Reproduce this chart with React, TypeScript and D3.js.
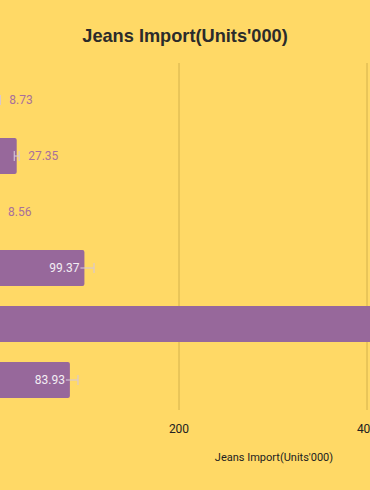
import React from 'react'
import * as d3 from 'd3'

// chart values (the view is cropped: category labels sit off the left edge)
const categories = ['Bangladesh', 'China', 'India', 'Pakistan', 'Turkey', 'Vietnam']
const imports = [8.73, 27.35, 8.56, 99.37, 480.2, 83.93]
const errors = [1.2, 2.6, 0, 10.2, 0, 8.6]
const xTicks = [0, 200, 400, 600]

const W = 370
const H = 490

export default function App() {
  const x = d3.scaleLinear().domain([0, 400]).range([-9, 367])
  const y = d3.scaleBand<string>()
    .domain(categories)
    .range([72, 408])
    .paddingInner(0.357)
    .paddingOuter(0.1785)
  const bw = y.bandwidth()
  const font = 'Roboto, "Liberation Sans", sans-serif'

  return (
    <svg width={W} height={H} style={{ position: 'absolute', left: 0, top: 0, background: '#FFD966' }}>
      <rect width={W} height={H} fill='#FFD966' />
      <text x={185} y={42} textAnchor='middle' fontFamily='"Liberation Sans", Arial, sans-serif'
        fontWeight='bold' fontSize={18.2} fill='#2b2b2b'>Jeans Import(Units'000)</text>

      {/* grid + tick labels */}
      {xTicks.map(t => (
        <g key={t}>
          <line x1={x(t)} x2={x(t)} y1={63} y2={410} stroke='#d4b24c' strokeWidth={1} />
          <text x={x(t)} y={433} textAnchor='middle' fontFamily={font} fontSize={12} fill='#222'>{t}</text>
        </g>
      ))}
      <text x={274} y={461} textAnchor='middle' fontFamily={font} fontSize={11} fill='#222'>Jeans Import(Units'000)</text>

      {/* category labels (off screen) */}
      {categories.map(c => (
        <text key={c} x={x(0) - 8} y={(y(c) ?? 0) + bw / 2} dy='0.35em' textAnchor='end'
          fontFamily={font} fontSize={11} fill='#333'>{c}</text>
      ))}

      {/* bars */}
      {categories.map((c, i) => {
        const v = imports[i]
        const y0 = y(c) ?? 0
        const xe = x(v)
        const w = xe - x(0)
        const inside = w > 50
        const err = errors[i]
        const cy = y0 + bw / 2
        const lo = inside ? xe - 4 : x(v - err)
        return (
          <g key={c}>
            <rect x={x(0) - 4} y={y0} width={w + 4} height={bw} rx={2} fill='#97689B' />
            {err > 0 && (
              <g stroke='#d6c6d8' strokeWidth={1.1}>
                <line x1={lo} x2={x(v + err)} y1={cy} y2={cy} />
                {!inside && <line x1={lo} x2={lo} y1={cy - 5} y2={cy + 5} />}
                <line x1={x(v + err)} x2={x(v + err)} y1={cy - 5} y2={cy + 5} />
              </g>
            )}
            {err === 0 && v < 20 && (
              <line x1={xe} x2={xe} y1={cy - 5} y2={cy + 5} stroke='#d6c6d8' strokeWidth={1.1} />
            )}
            {inside ? (
              <text x={xe - 5} y={cy} dy='0.35em' textAnchor='end' fontFamily={font}
                fontSize={12} fill='#f3eef4'>{v.toFixed(2)}</text>
            ) : (
              <text x={x(v + err) + 9} y={cy} dy='0.35em' textAnchor='start' fontFamily={font}
                fontSize={12} fill='#a8709c'>{v.toFixed(2)}</text>
            )}
          </g>
        )
      })}
    </svg>
  )
}
